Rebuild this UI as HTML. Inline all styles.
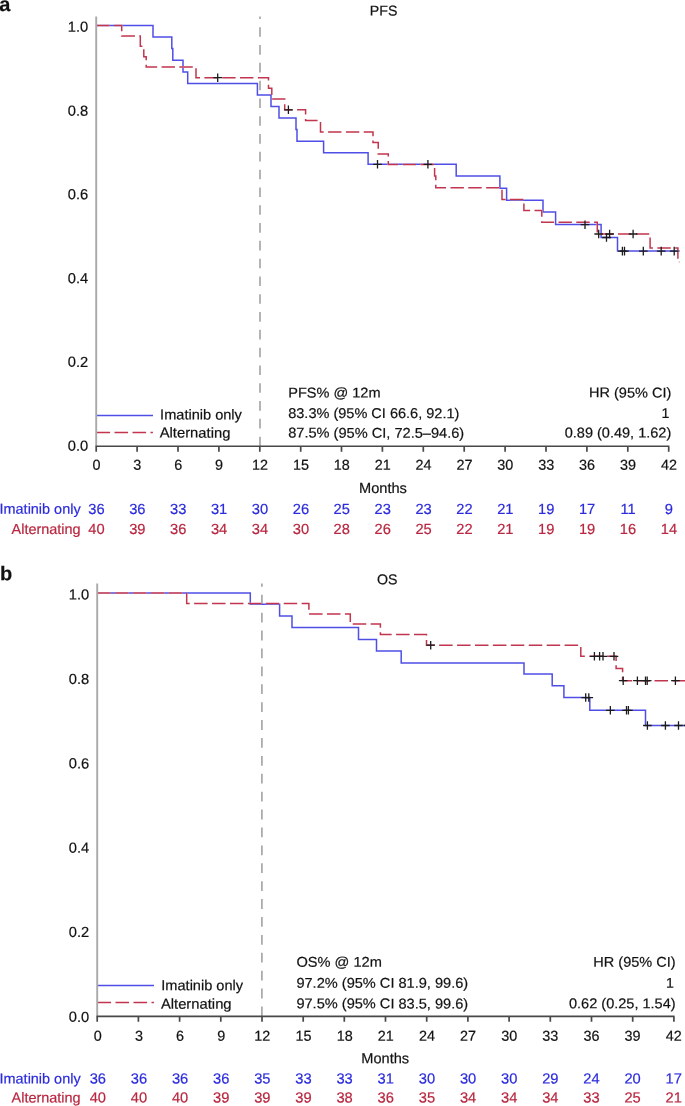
<!DOCTYPE html>
<html><head><meta charset="utf-8"><title>Kaplan-Meier PFS and OS</title>
<style>
html,body{margin:0;padding:0;background:#fff;}
svg{display:block;font-family:"Liberation Sans",sans-serif;will-change:transform;}
text{stroke-width:0.2px;paint-order:stroke fill;}
</style></head>
<body>
<svg width="685" height="1106" viewBox="0 0 685 1106">
<rect width="685" height="1106" fill="#fff"/>
<path d="M260.0,446.25V16.6" stroke="#a8a8a8" stroke-width="1.7" stroke-dasharray="9.6 8.2" fill="none"/>
<path d="M96.2,25.6H153V37H171.8V48.6H172.8V60.2H183V71.9H187.7V83.5H257.4V95.1H271V106.6H279V118H296V129.6H297V141.2H323.6V152.8H368.1V164.3H456.2V175.9H499.9V188.3H506.6V200.2H543V211.9H555.6V224.5H601.1V237.5H617.5V251.1H679.7" stroke="#4f4fe8" stroke-width="1.5" fill="none" stroke-linejoin="miter"/>
<path d="M96.2,25.6H121.7V35.9H140.3V46.3H143.8V56.7H146.2V67.1H196V77.7H268.5V88.3H271.8V99H284.7V109.7H305.6V120.4H320.5V132.1H373V142.6H378.25V153.9H388.3V164.4H434.6V176H435.8V187.8H502V199.5H523.9V210.6H541.8V222.3H597.3V234H650.1V248.1H677.9V259.4H679.4V262.3" stroke="#fff" stroke-width="1.5" fill="none" stroke-dasharray="13.4 4.41"/>
<path d="M96.2,25.6H121.7V35.9H140.3V46.3H143.8V56.7H146.2V67.1H196V77.7H268.5V88.3H271.8V99H284.7V109.7H305.6V120.4H320.5V132.1H373V142.6H378.25V153.9H388.3V164.4H434.6V176H435.8V187.8H502V199.5H523.9V210.6H541.8V222.3H597.3V234H650.1V248.1H677.9V259.4H679.4V262.3" stroke="#c2354e" stroke-width="1.5" fill="none" stroke-dasharray="13.4 4.41"/>
<path d="M213.40,77.70H222.00M217.70,73.40V82.00" stroke="#1c1c1c" stroke-width="1.3" fill="none"/>
<path d="M284.10,109.80H292.70M288.40,105.50V114.10" stroke="#1c1c1c" stroke-width="1.3" fill="none"/>
<path d="M373.20,164.30H381.80M377.50,160.00V168.60" stroke="#1c1c1c" stroke-width="1.3" fill="none"/>
<path d="M423.60,164.30H432.20M427.90,160.00V168.60" stroke="#1c1c1c" stroke-width="1.3" fill="none"/>
<path d="M580.70,224.70H589.30M585.00,220.40V229.00" stroke="#1c1c1c" stroke-width="1.3" fill="none"/>
<path d="M594.40,234.00H603.00M598.70,229.70V238.30" stroke="#1c1c1c" stroke-width="1.3" fill="none"/>
<path d="M602.20,237.50H610.80M606.50,233.20V241.80" stroke="#1c1c1c" stroke-width="1.3" fill="none"/>
<path d="M605.30,234.00H613.90M609.60,229.70V238.30" stroke="#1c1c1c" stroke-width="1.3" fill="none"/>
<path d="M628.80,234.00H637.40M633.10,229.70V238.30" stroke="#1c1c1c" stroke-width="1.3" fill="none"/>
<path d="M618.10,251.10H626.70M622.40,246.80V255.40" stroke="#1c1c1c" stroke-width="1.3" fill="none"/>
<path d="M620.20,251.10H628.80M624.50,246.80V255.40" stroke="#1c1c1c" stroke-width="1.3" fill="none"/>
<path d="M639.00,251.10H647.60M643.30,246.80V255.40" stroke="#1c1c1c" stroke-width="1.3" fill="none"/>
<path d="M656.90,251.10H665.50M661.20,246.80V255.40" stroke="#1c1c1c" stroke-width="1.3" fill="none"/>
<path d="M669.90,251.10H678.50M674.20,246.80V255.40" stroke="#1c1c1c" stroke-width="1.3" fill="none"/>
<path d="M96.2,415.4H153.0" stroke="#4f4fe8" stroke-width="1.5"/>
<path d="M96.5,432.4H152.9" stroke="#c2354e" stroke-width="1.5" stroke-dasharray="13.6 4.4"/>
<path d="M96.2,16.6V446.85" stroke="#a9a9a9" stroke-width="1.9" fill="none"/>
<path d="M95.60000000000001,446.25H669.3600000000001M96.2,446.25v5.4M137.1,446.25v5.4M178.0,446.25v5.4M218.9,446.25v5.4M259.8,446.25v5.4M300.7,446.25v5.4M341.5,446.25v5.4M382.4,446.25v5.4M423.3,446.25v5.4M464.2,446.25v5.4M505.1,446.25v5.4M546.0,446.25v5.4M586.9,446.25v5.4M627.8,446.25v5.4M668.7,446.25v5.4" stroke="#484848" stroke-width="1.7" fill="none"/>
<text x="88.2" y="31.8" transform="rotate(0.05 88.2 31.8)" font-size="14.7" text-anchor="end" fill="#111" stroke="#111">1.0</text>
<text x="88.2" y="115.7" transform="rotate(0.05 88.2 115.7)" font-size="14.7" text-anchor="end" fill="#111" stroke="#111">0.8</text>
<text x="88.2" y="199.3" transform="rotate(0.05 88.2 199.3)" font-size="14.7" text-anchor="end" fill="#111" stroke="#111">0.6</text>
<text x="88.2" y="283.3" transform="rotate(0.05 88.2 283.3)" font-size="14.7" text-anchor="end" fill="#111" stroke="#111">0.4</text>
<text x="88.2" y="366.9" transform="rotate(0.05 88.2 366.9)" font-size="14.7" text-anchor="end" fill="#111" stroke="#111">0.2</text>
<text x="88.2" y="450.7" transform="rotate(0.05 88.2 450.7)" font-size="14.7" text-anchor="end" fill="#111" stroke="#111">0.0</text>
<text x="96.45" y="469.8" transform="rotate(0.05 96.45 469.8)" font-size="14.4" text-anchor="middle" fill="#111" stroke="#111">0</text>
<text x="137.34" y="469.8" transform="rotate(0.05 137.34 469.8)" font-size="14.4" text-anchor="middle" fill="#111" stroke="#111">3</text>
<text x="178.23" y="469.8" transform="rotate(0.05 178.23 469.8)" font-size="14.4" text-anchor="middle" fill="#111" stroke="#111">6</text>
<text x="219.12" y="469.8" transform="rotate(0.05 219.12 469.8)" font-size="14.4" text-anchor="middle" fill="#111" stroke="#111">9</text>
<text x="260.01" y="469.8" transform="rotate(0.05 260.01 469.8)" font-size="14.4" text-anchor="middle" fill="#111" stroke="#111">12</text>
<text x="300.90" y="469.8" transform="rotate(0.05 300.90 469.8)" font-size="14.4" text-anchor="middle" fill="#111" stroke="#111">15</text>
<text x="341.79" y="469.8" transform="rotate(0.05 341.79 469.8)" font-size="14.4" text-anchor="middle" fill="#111" stroke="#111">18</text>
<text x="382.68" y="469.8" transform="rotate(0.05 382.68 469.8)" font-size="14.4" text-anchor="middle" fill="#111" stroke="#111">21</text>
<text x="423.57" y="469.8" transform="rotate(0.05 423.57 469.8)" font-size="14.4" text-anchor="middle" fill="#111" stroke="#111">24</text>
<text x="464.46" y="469.8" transform="rotate(0.05 464.46 469.8)" font-size="14.4" text-anchor="middle" fill="#111" stroke="#111">27</text>
<text x="505.35" y="469.8" transform="rotate(0.05 505.35 469.8)" font-size="14.4" text-anchor="middle" fill="#111" stroke="#111">30</text>
<text x="546.24" y="469.8" transform="rotate(0.05 546.24 469.8)" font-size="14.4" text-anchor="middle" fill="#111" stroke="#111">33</text>
<text x="587.13" y="469.8" transform="rotate(0.05 587.13 469.8)" font-size="14.4" text-anchor="middle" fill="#111" stroke="#111">36</text>
<text x="628.02" y="469.8" transform="rotate(0.05 628.02 469.8)" font-size="14.4" text-anchor="middle" fill="#111" stroke="#111">39</text>
<text x="668.91" y="469.8" transform="rotate(0.05 668.91 469.8)" font-size="14.4" text-anchor="middle" fill="#111" stroke="#111">42</text>
<text x="383" y="493" transform="rotate(0.05 383 493)" font-size="14.6" text-anchor="middle" fill="#111" stroke="#111">Months</text>
<text x="383.6" y="15.5" transform="rotate(0.05 383.6 15.5)" font-size="14.2" text-anchor="middle" fill="#111" stroke="#111">PFS</text>
<text x="-0.7" y="11.0" transform="rotate(0.05 -0.7 11.0)" font-size="20" font-weight="bold" fill="#111" stroke="#111">a</text>
<text x="160.1" y="419.5" transform="rotate(0.05 160.1 419.5)" font-size="14.4" fill="#111" stroke="#111" textLength="81.8" lengthAdjust="spacingAndGlyphs">Imatinib only</text>
<text x="159.7" y="437.6" transform="rotate(0.05 159.7 437.6)" font-size="14.4" fill="#111" stroke="#111" textLength="70.7" lengthAdjust="spacingAndGlyphs">Alternating</text>
<text x="288.2" y="397.45" transform="rotate(0.05 288.2 397.45)" font-size="14.2" fill="#111" stroke="#111" textLength="92.3" lengthAdjust="spacingAndGlyphs">PFS% @ 12m</text>
<text x="288.2" y="418.0" transform="rotate(0.05 288.2 418.0)" font-size="14.2" fill="#111" stroke="#111" textLength="171.2" lengthAdjust="spacingAndGlyphs">83.3% (95% CI 66.6, 92.1)</text>
<text x="288.2" y="437.6" transform="rotate(0.05 288.2 437.6)" font-size="14.2" fill="#111" stroke="#111" textLength="176" lengthAdjust="spacingAndGlyphs">87.5% (95% CI, 72.5–94.6)</text>
<text x="671.3" y="397.45" transform="rotate(0.05 671.3 397.45)" font-size="14.2" text-anchor="end" fill="#111" stroke="#111" textLength="82.3" lengthAdjust="spacingAndGlyphs">HR (95% CI)</text>
<text x="669.5" y="418.0" transform="rotate(0.05 669.5 418.0)" font-size="14.2" text-anchor="end" fill="#111" stroke="#111">1</text>
<text x="671.3" y="437.6" transform="rotate(0.05 671.3 437.6)" font-size="14.2" text-anchor="end" fill="#111" stroke="#111" textLength="106.6" lengthAdjust="spacingAndGlyphs">0.89 (0.49, 1.62)</text>
<text x="80.6" y="513.9" transform="rotate(0.05 80.6 513.9)" font-size="14.45" text-anchor="end" fill="#2b2bdd" stroke="#2b2bdd">Imatinib only</text>
<text x="80.6" y="534.0" transform="rotate(0.05 80.6 534.0)" font-size="14.45" text-anchor="end" fill="#b8263f" stroke="#b8263f">Alternating</text>
<text x="96.45" y="513.9" transform="rotate(0.05 96.45 513.9)" font-size="14.7" text-anchor="middle" fill="#2b2bdd" stroke="#2b2bdd">36</text>
<text x="96.45" y="534.0" transform="rotate(0.05 96.45 534.0)" font-size="14.7" text-anchor="middle" fill="#b8263f" stroke="#b8263f">40</text>
<text x="137.34" y="513.9" transform="rotate(0.05 137.34 513.9)" font-size="14.7" text-anchor="middle" fill="#2b2bdd" stroke="#2b2bdd">36</text>
<text x="137.34" y="534.0" transform="rotate(0.05 137.34 534.0)" font-size="14.7" text-anchor="middle" fill="#b8263f" stroke="#b8263f">39</text>
<text x="178.23" y="513.9" transform="rotate(0.05 178.23 513.9)" font-size="14.7" text-anchor="middle" fill="#2b2bdd" stroke="#2b2bdd">33</text>
<text x="178.23" y="534.0" transform="rotate(0.05 178.23 534.0)" font-size="14.7" text-anchor="middle" fill="#b8263f" stroke="#b8263f">36</text>
<text x="219.12" y="513.9" transform="rotate(0.05 219.12 513.9)" font-size="14.7" text-anchor="middle" fill="#2b2bdd" stroke="#2b2bdd">31</text>
<text x="219.12" y="534.0" transform="rotate(0.05 219.12 534.0)" font-size="14.7" text-anchor="middle" fill="#b8263f" stroke="#b8263f">34</text>
<text x="260.01" y="513.9" transform="rotate(0.05 260.01 513.9)" font-size="14.7" text-anchor="middle" fill="#2b2bdd" stroke="#2b2bdd">30</text>
<text x="260.01" y="534.0" transform="rotate(0.05 260.01 534.0)" font-size="14.7" text-anchor="middle" fill="#b8263f" stroke="#b8263f">34</text>
<text x="300.90" y="513.9" transform="rotate(0.05 300.90 513.9)" font-size="14.7" text-anchor="middle" fill="#2b2bdd" stroke="#2b2bdd">26</text>
<text x="300.90" y="534.0" transform="rotate(0.05 300.90 534.0)" font-size="14.7" text-anchor="middle" fill="#b8263f" stroke="#b8263f">30</text>
<text x="341.79" y="513.9" transform="rotate(0.05 341.79 513.9)" font-size="14.7" text-anchor="middle" fill="#2b2bdd" stroke="#2b2bdd">25</text>
<text x="341.79" y="534.0" transform="rotate(0.05 341.79 534.0)" font-size="14.7" text-anchor="middle" fill="#b8263f" stroke="#b8263f">28</text>
<text x="382.68" y="513.9" transform="rotate(0.05 382.68 513.9)" font-size="14.7" text-anchor="middle" fill="#2b2bdd" stroke="#2b2bdd">23</text>
<text x="382.68" y="534.0" transform="rotate(0.05 382.68 534.0)" font-size="14.7" text-anchor="middle" fill="#b8263f" stroke="#b8263f">26</text>
<text x="423.57" y="513.9" transform="rotate(0.05 423.57 513.9)" font-size="14.7" text-anchor="middle" fill="#2b2bdd" stroke="#2b2bdd">23</text>
<text x="423.57" y="534.0" transform="rotate(0.05 423.57 534.0)" font-size="14.7" text-anchor="middle" fill="#b8263f" stroke="#b8263f">25</text>
<text x="464.46" y="513.9" transform="rotate(0.05 464.46 513.9)" font-size="14.7" text-anchor="middle" fill="#2b2bdd" stroke="#2b2bdd">22</text>
<text x="464.46" y="534.0" transform="rotate(0.05 464.46 534.0)" font-size="14.7" text-anchor="middle" fill="#b8263f" stroke="#b8263f">22</text>
<text x="505.35" y="513.9" transform="rotate(0.05 505.35 513.9)" font-size="14.7" text-anchor="middle" fill="#2b2bdd" stroke="#2b2bdd">21</text>
<text x="505.35" y="534.0" transform="rotate(0.05 505.35 534.0)" font-size="14.7" text-anchor="middle" fill="#b8263f" stroke="#b8263f">21</text>
<text x="546.24" y="513.9" transform="rotate(0.05 546.24 513.9)" font-size="14.7" text-anchor="middle" fill="#2b2bdd" stroke="#2b2bdd">19</text>
<text x="546.24" y="534.0" transform="rotate(0.05 546.24 534.0)" font-size="14.7" text-anchor="middle" fill="#b8263f" stroke="#b8263f">19</text>
<text x="587.13" y="513.9" transform="rotate(0.05 587.13 513.9)" font-size="14.7" text-anchor="middle" fill="#2b2bdd" stroke="#2b2bdd">17</text>
<text x="587.13" y="534.0" transform="rotate(0.05 587.13 534.0)" font-size="14.7" text-anchor="middle" fill="#b8263f" stroke="#b8263f">19</text>
<text x="628.02" y="513.9" transform="rotate(0.05 628.02 513.9)" font-size="14.7" text-anchor="middle" fill="#2b2bdd" stroke="#2b2bdd">11</text>
<text x="628.02" y="534.0" transform="rotate(0.05 628.02 534.0)" font-size="14.7" text-anchor="middle" fill="#b8263f" stroke="#b8263f">16</text>
<text x="668.91" y="513.9" transform="rotate(0.05 668.91 513.9)" font-size="14.7" text-anchor="middle" fill="#2b2bdd" stroke="#2b2bdd">9</text>
<text x="668.91" y="534.0" transform="rotate(0.05 668.91 534.0)" font-size="14.7" text-anchor="middle" fill="#b8263f" stroke="#b8263f">14</text>
<path d="M261.9,1016.3V583.6" stroke="#a8a8a8" stroke-width="1.7" stroke-dasharray="9.8 8.1" fill="none"/>
<path d="M97.2,592.9H250.3V604.3H279.6V615.9H292V627.6H358.5V639.4H376.5V651.1H401.2V662.9H524V674.1H552.2V685.8H563.9V697.55H589.8V710.3H645.5V725.5H686" stroke="#4f4fe8" stroke-width="1.5" fill="none" stroke-linejoin="miter"/>
<path d="M97.2,592.9H186.7V603.5H308.9V614H350.3V624.1H380.4V634.5H426.5V645.2H580.8V656.35H616.1V668.4H622.6V680.7H686" stroke="#fff" stroke-width="1.5" fill="none" stroke-dasharray="13.5 4.42"/>
<path d="M97.2,592.9H186.7V603.5H308.9V614H350.3V624.1H380.4V634.5H426.5V645.2H580.8V656.35H616.1V668.4H622.6V680.7H686" stroke="#c2354e" stroke-width="1.5" fill="none" stroke-dasharray="13.5 4.42"/>
<path d="M426.40,645.20H435.00M430.70,640.90V649.50" stroke="#1c1c1c" stroke-width="1.3" fill="none"/>
<path d="M590.10,656.30H598.70M594.40,652.00V660.60" stroke="#1c1c1c" stroke-width="1.3" fill="none"/>
<path d="M595.30,656.30H603.90M599.60,652.00V660.60" stroke="#1c1c1c" stroke-width="1.3" fill="none"/>
<path d="M598.70,656.30H607.30M603.00,652.00V660.60" stroke="#1c1c1c" stroke-width="1.3" fill="none"/>
<path d="M609.70,656.30H618.30M614.00,652.00V660.60" stroke="#1c1c1c" stroke-width="1.3" fill="none"/>
<path d="M618.90,680.70H627.50M623.20,676.40V685.00" stroke="#1c1c1c" stroke-width="1.3" fill="none"/>
<path d="M633.10,680.70H641.70M637.40,676.40V685.00" stroke="#1c1c1c" stroke-width="1.3" fill="none"/>
<path d="M641.20,680.70H649.80M645.50,676.40V685.00" stroke="#1c1c1c" stroke-width="1.3" fill="none"/>
<path d="M642.90,680.70H651.50M647.20,676.40V685.00" stroke="#1c1c1c" stroke-width="1.3" fill="none"/>
<path d="M671.10,680.70H679.70M675.40,676.40V685.00" stroke="#1c1c1c" stroke-width="1.3" fill="none"/>
<path d="M581.40,697.55H590.00M585.70,693.25V701.85" stroke="#1c1c1c" stroke-width="1.3" fill="none"/>
<path d="M584.50,697.55H593.10M588.80,693.25V701.85" stroke="#1c1c1c" stroke-width="1.3" fill="none"/>
<path d="M606.05,710.30H614.65M610.35,706.00V714.60" stroke="#1c1c1c" stroke-width="1.3" fill="none"/>
<path d="M622.20,710.30H630.80M626.50,706.00V714.60" stroke="#1c1c1c" stroke-width="1.3" fill="none"/>
<path d="M624.10,710.30H632.70M628.40,706.00V714.60" stroke="#1c1c1c" stroke-width="1.3" fill="none"/>
<path d="M643.10,725.50H651.70M647.40,721.20V729.80" stroke="#1c1c1c" stroke-width="1.3" fill="none"/>
<path d="M661.10,725.50H669.70M665.40,721.20V729.80" stroke="#1c1c1c" stroke-width="1.3" fill="none"/>
<path d="M674.20,725.50H682.80M678.50,721.20V729.80" stroke="#1c1c1c" stroke-width="1.3" fill="none"/>
<path d="M683.70,725.50H692.30M688.00,721.20V729.80" stroke="#1c1c1c" stroke-width="1.3" fill="none"/>
<path d="M97.2,985.5H154.0" stroke="#4f4fe8" stroke-width="1.5"/>
<path d="M97.5,1002.4H153.9" stroke="#c2354e" stroke-width="1.5" stroke-dasharray="13.6 4.4"/>
<path d="M97.2,583.6V1016.9" stroke="#a9a9a9" stroke-width="1.9" fill="none"/>
<path d="M96.60000000000001,1016.3H674.5600000000001M97.2,1016.3v5.4M138.4,1016.3v5.4M179.6,1016.3v5.4M220.8,1016.3v5.4M262.0,1016.3v5.4M303.2,1016.3v5.4M344.3,1016.3v5.4M385.5,1016.3v5.4M426.7,1016.3v5.4M467.9,1016.3v5.4M509.1,1016.3v5.4M550.3,1016.3v5.4M591.5,1016.3v5.4M632.7,1016.3v5.4M673.9,1016.3v5.4" stroke="#484848" stroke-width="1.7" fill="none"/>
<text x="89.2" y="599.6" transform="rotate(0.05 89.2 599.6)" font-size="14.7" text-anchor="end" fill="#111" stroke="#111">1.0</text>
<text x="89.2" y="684.1" transform="rotate(0.05 89.2 684.1)" font-size="14.7" text-anchor="end" fill="#111" stroke="#111">0.8</text>
<text x="89.2" y="768.4" transform="rotate(0.05 89.2 768.4)" font-size="14.7" text-anchor="end" fill="#111" stroke="#111">0.6</text>
<text x="89.2" y="852.7" transform="rotate(0.05 89.2 852.7)" font-size="14.7" text-anchor="end" fill="#111" stroke="#111">0.4</text>
<text x="89.2" y="937.1" transform="rotate(0.05 89.2 937.1)" font-size="14.7" text-anchor="end" fill="#111" stroke="#111">0.2</text>
<text x="89.2" y="1021.9" transform="rotate(0.05 89.2 1021.9)" font-size="14.7" text-anchor="end" fill="#111" stroke="#111">0.0</text>
<text x="97.80" y="1040.75" transform="rotate(0.05 97.80 1040.75)" font-size="14.4" text-anchor="middle" fill="#111" stroke="#111">0</text>
<text x="138.94" y="1040.75" transform="rotate(0.05 138.94 1040.75)" font-size="14.4" text-anchor="middle" fill="#111" stroke="#111">3</text>
<text x="180.08" y="1040.75" transform="rotate(0.05 180.08 1040.75)" font-size="14.4" text-anchor="middle" fill="#111" stroke="#111">6</text>
<text x="221.22" y="1040.75" transform="rotate(0.05 221.22 1040.75)" font-size="14.4" text-anchor="middle" fill="#111" stroke="#111">9</text>
<text x="262.36" y="1040.75" transform="rotate(0.05 262.36 1040.75)" font-size="14.4" text-anchor="middle" fill="#111" stroke="#111">12</text>
<text x="303.50" y="1040.75" transform="rotate(0.05 303.50 1040.75)" font-size="14.4" text-anchor="middle" fill="#111" stroke="#111">15</text>
<text x="344.64" y="1040.75" transform="rotate(0.05 344.64 1040.75)" font-size="14.4" text-anchor="middle" fill="#111" stroke="#111">18</text>
<text x="385.78" y="1040.75" transform="rotate(0.05 385.78 1040.75)" font-size="14.4" text-anchor="middle" fill="#111" stroke="#111">21</text>
<text x="426.92" y="1040.75" transform="rotate(0.05 426.92 1040.75)" font-size="14.4" text-anchor="middle" fill="#111" stroke="#111">24</text>
<text x="468.06" y="1040.75" transform="rotate(0.05 468.06 1040.75)" font-size="14.4" text-anchor="middle" fill="#111" stroke="#111">27</text>
<text x="509.20" y="1040.75" transform="rotate(0.05 509.20 1040.75)" font-size="14.4" text-anchor="middle" fill="#111" stroke="#111">30</text>
<text x="550.34" y="1040.75" transform="rotate(0.05 550.34 1040.75)" font-size="14.4" text-anchor="middle" fill="#111" stroke="#111">33</text>
<text x="591.48" y="1040.75" transform="rotate(0.05 591.48 1040.75)" font-size="14.4" text-anchor="middle" fill="#111" stroke="#111">36</text>
<text x="632.62" y="1040.75" transform="rotate(0.05 632.62 1040.75)" font-size="14.4" text-anchor="middle" fill="#111" stroke="#111">39</text>
<text x="673.76" y="1040.75" transform="rotate(0.05 673.76 1040.75)" font-size="14.4" text-anchor="middle" fill="#111" stroke="#111">42</text>
<text x="385.2" y="1063.2" transform="rotate(0.05 385.2 1063.2)" font-size="14.6" text-anchor="middle" fill="#111" stroke="#111">Months</text>
<text x="387.2" y="584.2" transform="rotate(0.05 387.2 584.2)" font-size="14.2" text-anchor="middle" fill="#111" stroke="#111">OS</text>
<text x="0" y="580.2" transform="rotate(0.05 0 580.2)" font-size="20" font-weight="bold" fill="#111" stroke="#111">b</text>
<text x="161.3" y="990.3" transform="rotate(0.05 161.3 990.3)" font-size="14.4" fill="#111" stroke="#111" textLength="81.8" lengthAdjust="spacingAndGlyphs">Imatinib only</text>
<text x="160.9" y="1008.7" transform="rotate(0.05 160.9 1008.7)" font-size="14.4" fill="#111" stroke="#111" textLength="70.7" lengthAdjust="spacingAndGlyphs">Alternating</text>
<text x="296.4" y="966.8" transform="rotate(0.05 296.4 966.8)" font-size="14.2" fill="#111" stroke="#111" textLength="85.4" lengthAdjust="spacingAndGlyphs">OS% @ 12m</text>
<text x="296.4" y="987.7" transform="rotate(0.05 296.4 987.7)" font-size="14.2" fill="#111" stroke="#111" textLength="171.8" lengthAdjust="spacingAndGlyphs">97.2% (95% CI 81.9, 99.6)</text>
<text x="296.4" y="1008.3" transform="rotate(0.05 296.4 1008.3)" font-size="14.2" fill="#111" stroke="#111" textLength="171.8" lengthAdjust="spacingAndGlyphs">97.5% (95% CI 83.5, 99.6)</text>
<text x="675.6" y="966.8" transform="rotate(0.05 675.6 966.8)" font-size="14.2" text-anchor="end" fill="#111" stroke="#111" textLength="82.3" lengthAdjust="spacingAndGlyphs">HR (95% CI)</text>
<text x="673.8" y="987.7" transform="rotate(0.05 673.8 987.7)" font-size="14.2" text-anchor="end" fill="#111" stroke="#111">1</text>
<text x="675.6" y="1008.3" transform="rotate(0.05 675.6 1008.3)" font-size="14.2" text-anchor="end" fill="#111" stroke="#111" textLength="106.6" lengthAdjust="spacingAndGlyphs">0.62 (0.25, 1.54)</text>
<text x="80.6" y="1083.55" transform="rotate(0.05 80.6 1083.55)" font-size="14.45" text-anchor="end" fill="#2b2bdd" stroke="#2b2bdd">Imatinib only</text>
<text x="80.6" y="1102.6" transform="rotate(0.05 80.6 1102.6)" font-size="14.45" text-anchor="end" fill="#b8263f" stroke="#b8263f">Alternating</text>
<text x="97.80" y="1083.55" transform="rotate(0.05 97.80 1083.55)" font-size="14.7" text-anchor="middle" fill="#2b2bdd" stroke="#2b2bdd">36</text>
<text x="97.80" y="1102.6" transform="rotate(0.05 97.80 1102.6)" font-size="14.7" text-anchor="middle" fill="#b8263f" stroke="#b8263f">40</text>
<text x="138.94" y="1083.55" transform="rotate(0.05 138.94 1083.55)" font-size="14.7" text-anchor="middle" fill="#2b2bdd" stroke="#2b2bdd">36</text>
<text x="138.94" y="1102.6" transform="rotate(0.05 138.94 1102.6)" font-size="14.7" text-anchor="middle" fill="#b8263f" stroke="#b8263f">40</text>
<text x="180.08" y="1083.55" transform="rotate(0.05 180.08 1083.55)" font-size="14.7" text-anchor="middle" fill="#2b2bdd" stroke="#2b2bdd">36</text>
<text x="180.08" y="1102.6" transform="rotate(0.05 180.08 1102.6)" font-size="14.7" text-anchor="middle" fill="#b8263f" stroke="#b8263f">40</text>
<text x="221.22" y="1083.55" transform="rotate(0.05 221.22 1083.55)" font-size="14.7" text-anchor="middle" fill="#2b2bdd" stroke="#2b2bdd">36</text>
<text x="221.22" y="1102.6" transform="rotate(0.05 221.22 1102.6)" font-size="14.7" text-anchor="middle" fill="#b8263f" stroke="#b8263f">39</text>
<text x="262.36" y="1083.55" transform="rotate(0.05 262.36 1083.55)" font-size="14.7" text-anchor="middle" fill="#2b2bdd" stroke="#2b2bdd">35</text>
<text x="262.36" y="1102.6" transform="rotate(0.05 262.36 1102.6)" font-size="14.7" text-anchor="middle" fill="#b8263f" stroke="#b8263f">39</text>
<text x="303.50" y="1083.55" transform="rotate(0.05 303.50 1083.55)" font-size="14.7" text-anchor="middle" fill="#2b2bdd" stroke="#2b2bdd">33</text>
<text x="303.50" y="1102.6" transform="rotate(0.05 303.50 1102.6)" font-size="14.7" text-anchor="middle" fill="#b8263f" stroke="#b8263f">39</text>
<text x="344.64" y="1083.55" transform="rotate(0.05 344.64 1083.55)" font-size="14.7" text-anchor="middle" fill="#2b2bdd" stroke="#2b2bdd">33</text>
<text x="344.64" y="1102.6" transform="rotate(0.05 344.64 1102.6)" font-size="14.7" text-anchor="middle" fill="#b8263f" stroke="#b8263f">38</text>
<text x="385.78" y="1083.55" transform="rotate(0.05 385.78 1083.55)" font-size="14.7" text-anchor="middle" fill="#2b2bdd" stroke="#2b2bdd">31</text>
<text x="385.78" y="1102.6" transform="rotate(0.05 385.78 1102.6)" font-size="14.7" text-anchor="middle" fill="#b8263f" stroke="#b8263f">36</text>
<text x="426.92" y="1083.55" transform="rotate(0.05 426.92 1083.55)" font-size="14.7" text-anchor="middle" fill="#2b2bdd" stroke="#2b2bdd">30</text>
<text x="426.92" y="1102.6" transform="rotate(0.05 426.92 1102.6)" font-size="14.7" text-anchor="middle" fill="#b8263f" stroke="#b8263f">35</text>
<text x="468.06" y="1083.55" transform="rotate(0.05 468.06 1083.55)" font-size="14.7" text-anchor="middle" fill="#2b2bdd" stroke="#2b2bdd">30</text>
<text x="468.06" y="1102.6" transform="rotate(0.05 468.06 1102.6)" font-size="14.7" text-anchor="middle" fill="#b8263f" stroke="#b8263f">34</text>
<text x="509.20" y="1083.55" transform="rotate(0.05 509.20 1083.55)" font-size="14.7" text-anchor="middle" fill="#2b2bdd" stroke="#2b2bdd">30</text>
<text x="509.20" y="1102.6" transform="rotate(0.05 509.20 1102.6)" font-size="14.7" text-anchor="middle" fill="#b8263f" stroke="#b8263f">34</text>
<text x="550.34" y="1083.55" transform="rotate(0.05 550.34 1083.55)" font-size="14.7" text-anchor="middle" fill="#2b2bdd" stroke="#2b2bdd">29</text>
<text x="550.34" y="1102.6" transform="rotate(0.05 550.34 1102.6)" font-size="14.7" text-anchor="middle" fill="#b8263f" stroke="#b8263f">34</text>
<text x="591.48" y="1083.55" transform="rotate(0.05 591.48 1083.55)" font-size="14.7" text-anchor="middle" fill="#2b2bdd" stroke="#2b2bdd">24</text>
<text x="591.48" y="1102.6" transform="rotate(0.05 591.48 1102.6)" font-size="14.7" text-anchor="middle" fill="#b8263f" stroke="#b8263f">33</text>
<text x="632.62" y="1083.55" transform="rotate(0.05 632.62 1083.55)" font-size="14.7" text-anchor="middle" fill="#2b2bdd" stroke="#2b2bdd">20</text>
<text x="632.62" y="1102.6" transform="rotate(0.05 632.62 1102.6)" font-size="14.7" text-anchor="middle" fill="#b8263f" stroke="#b8263f">25</text>
<text x="673.76" y="1083.55" transform="rotate(0.05 673.76 1083.55)" font-size="14.7" text-anchor="middle" fill="#2b2bdd" stroke="#2b2bdd">17</text>
<text x="673.76" y="1102.6" transform="rotate(0.05 673.76 1102.6)" font-size="14.7" text-anchor="middle" fill="#b8263f" stroke="#b8263f">21</text>
</svg>
</body></html>
